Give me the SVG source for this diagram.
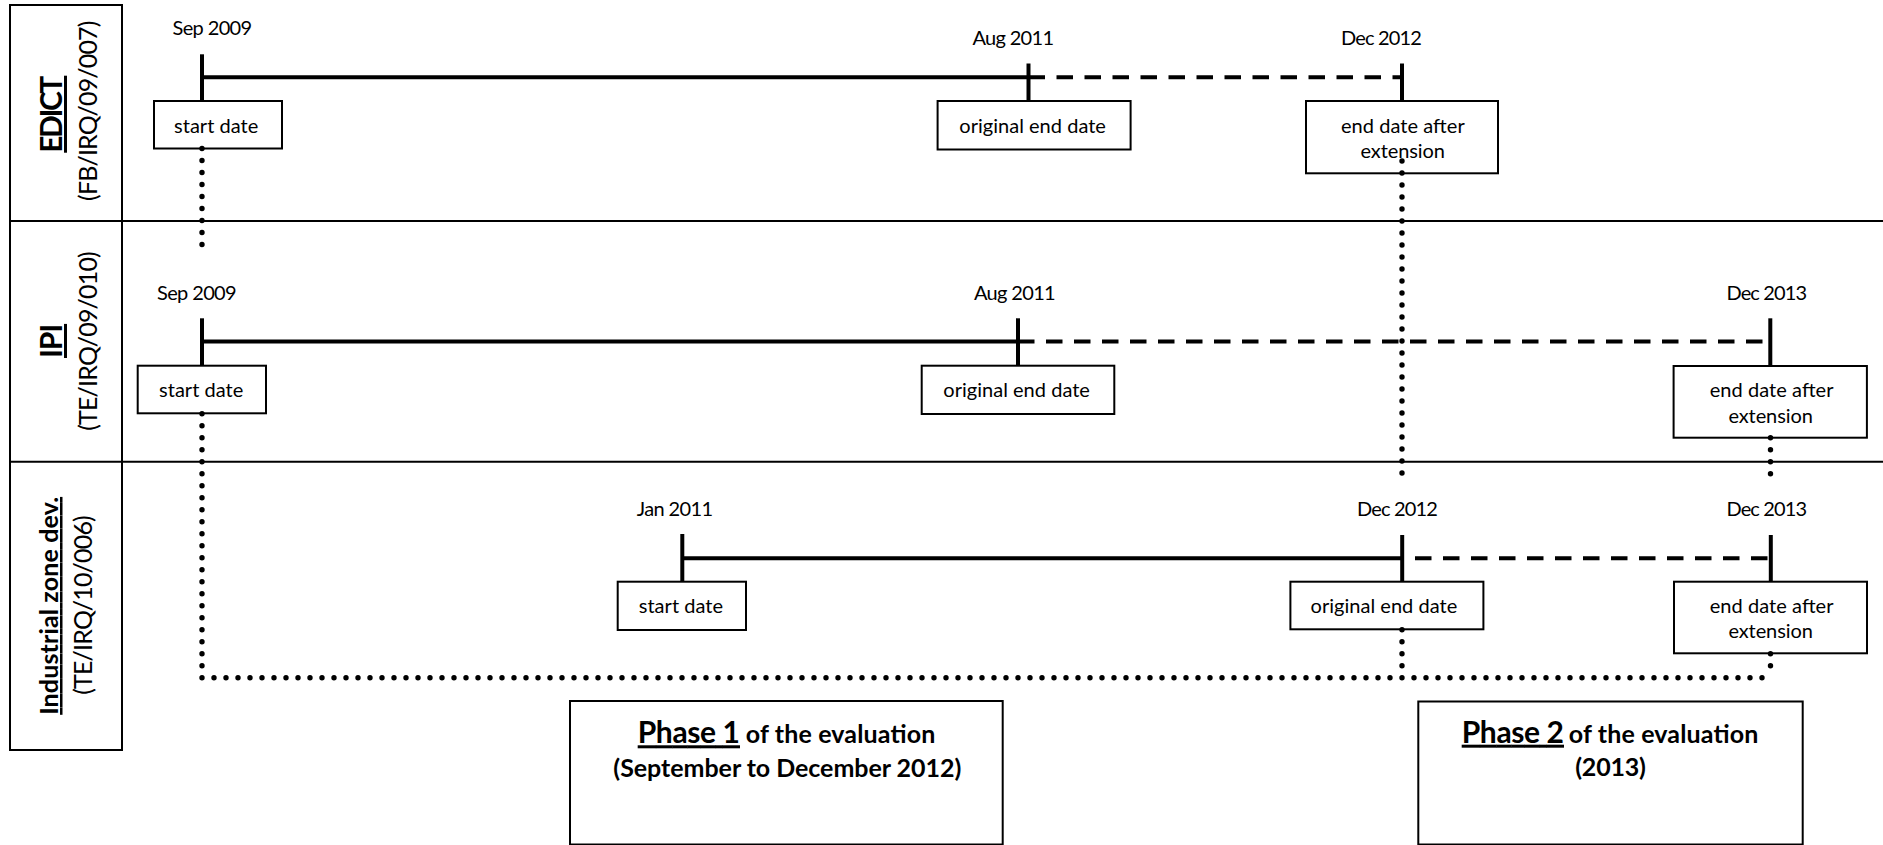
<svg xmlns="http://www.w3.org/2000/svg" width="1883" height="845" viewBox="0 0 1883 845">
<style>
  .t { font-family: Lato, "Open Sans", "Liberation Sans", sans-serif; font-size: 20px; fill: #000; }
  .rp { font-family: Lato, "Open Sans", "Liberation Sans", sans-serif; font-size: 25px; fill: #000; }
  .b30 { font-family: Lato, "Open Sans", "Liberation Sans", sans-serif; font-size: 30px; font-weight: bold; fill: #000; text-decoration: underline; }
  .b25 { font-family: Lato, "Open Sans", "Liberation Sans", sans-serif; font-size: 25px; font-weight: bold; fill: #000; }
  .u { text-decoration: underline; }
  .bx { fill: #fff; stroke: #000; stroke-width: 2; }
  .frame { fill: none; stroke: #000; stroke-width: 2; }
  .grid { stroke: #000; stroke-width: 2; fill: none; }
  .tick { stroke: #000; stroke-width: 4; fill: none; }
  .solid { stroke: #000; stroke-width: 4; fill: none; }
  .dash { stroke: #000; stroke-width: 4; fill: none; stroke-dasharray: 16.5 11.5; }
  .dot { stroke: #000; stroke-width: 5.4; fill: none; stroke-linecap: round; stroke-dasharray: 0 12; }
</style>

<g id="lanes">
  <rect class="frame" x="10" y="5" width="112" height="745"/>
  <line class="grid" x1="10" y1="221" x2="1883" y2="221"/>
  <line class="grid" x1="10" y1="461.7" x2="1883" y2="461.7"/>
</g>

<g id="lane-edict">
  <text class="b30" transform="translate(62,114.2) rotate(-90)" x="-38.5" y="0" textLength="77">EDICT</text>
  <text class="rp" transform="translate(96.5,110.8) rotate(-90)" x="-90.1" y="0" textLength="180.3">(FB/IRQ/09/007)</text>
</g>
<g id="lane-ipi">
  <text class="b30" transform="translate(62,341) rotate(-90)" x="-17" y="0" textLength="34.1">IPI</text>
  <text class="rp" transform="translate(96.5,341) rotate(-90)" x="-89.8" y="0" textLength="179.6">(TE/IRQ/09/010)</text>
</g>
<g id="lane-industrial">
  <text class="b25 u" transform="translate(58,605.8) rotate(-90)" x="-109" y="0" textLength="217.9">Industrial zone dev.</text>
  <text class="rp" transform="translate(91.5,605) rotate(-90)" x="-89.8" y="0" textLength="179.6">(TE/IRQ/10/006)</text>
</g>

<!-- EDICT row -->
<g id="edict-start">
  <rect class="bx" x="154" y="101" width="128" height="47.5"/>
  <text class="t" x="174" y="132.7" textLength="84.3">start date</text>
</g>
<g id="edict-orig-end">
  <rect class="bx" x="937.6" y="101" width="193" height="48.5"/>
  <text class="t" x="959.3" y="132.7" textLength="146.6">original end date</text>
</g>
<g id="edict-ext-end">
  <rect class="bx" x="1306" y="101" width="192" height="72.3"/>
  <text class="t" x="1340.9" y="132.7" textLength="123.8">end date after</text>
  <text class="t" x="1360.5" y="158" textLength="84.5">extension</text>
</g>
<g id="edict-dates">
  <text class="t" x="172.5" y="34.5" textLength="79.7">Sep 2009</text>
  <text class="t" x="972.4" y="44.5" textLength="81.7">Aug 2011</text>
  <text class="t" x="1341" y="44.5" textLength="80.8">Dec 2012</text>
</g>

<!-- IPI row -->
<g id="ipi-start">
  <rect class="bx" x="137.7" y="365.7" width="128.3" height="47.6"/>
  <text class="t" x="159" y="396.7" textLength="84.3">start date</text>
</g>
<g id="ipi-orig-end">
  <rect class="bx" x="921.7" y="365.7" width="192.6" height="48.3"/>
  <text class="t" x="943.3" y="396.7" textLength="146.6">original end date</text>
</g>
<g id="ipi-ext-end">
  <rect class="bx" x="1673.6" y="366" width="193.3" height="71.7"/>
  <text class="t" x="1709.7" y="397" textLength="123.8">end date after</text>
  <text class="t" x="1728.4" y="422.5" textLength="84.5">extension</text>
</g>
<g id="ipi-dates">
  <text class="t" x="157" y="300" textLength="79.7">Sep 2009</text>
  <text class="t" x="974" y="300" textLength="81.7">Aug 2011</text>
  <text class="t" x="1726.4" y="300" textLength="80.8">Dec 2013</text>
</g>

<!-- Industrial zone row -->
<g id="iz-start">
  <rect class="bx" x="617.7" y="581.7" width="128.3" height="48.3"/>
  <text class="t" x="638.7" y="613.3" textLength="84.3">start date</text>
</g>
<g id="iz-orig-end">
  <rect class="bx" x="1290.4" y="581.7" width="193" height="47.6"/>
  <text class="t" x="1310.6" y="612.7" textLength="146.6">original end date</text>
</g>
<g id="iz-ext-end">
  <rect class="bx" x="1674" y="581.7" width="193" height="71.6"/>
  <text class="t" x="1709.7" y="612.7" textLength="123.8">end date after</text>
  <text class="t" x="1728.4" y="638" textLength="84.5">extension</text>
</g>
<g id="iz-dates">
  <text class="t" x="636.7" y="516" textLength="76.3">Jan 2011</text>
  <text class="t" x="1357" y="516" textLength="80.8">Dec 2012</text>
  <text class="t" x="1726.4" y="516" textLength="80.8">Dec 2013</text>
</g>

<!-- Phase boxes -->
<g id="phase1">
  <rect class="bx" x="570" y="701" width="432.7" height="143.5"/>
  <text class="b30" x="637.7" y="743.3" textLength="102.3">Phase 1</text>
  <text class="b25" x="745.7" y="743.3" textLength="189.6">of the evaluation</text>
  <text class="b25" x="613.3" y="776.7" textLength="348">(September to December 2012)</text>
</g>
<g id="phase2">
  <rect class="bx" x="1418.3" y="701.5" width="384.4" height="143"/>
  <text class="b30" x="1461.7" y="742.7" textLength="102.3">Phase 2</text>
  <text class="b25" x="1568.7" y="742.7" textLength="189.6">of the evaluation</text>
  <text class="b25" x="1575.2" y="776.3" textLength="70.7">(2013)</text>
</g>

<g id="connectors">
  <!-- EDICT timeline -->
  <line class="solid" x1="202" y1="77.3" x2="1028.5" y2="77.3"/>
  <line class="dash" x1="1028.5" y1="77.3" x2="1402" y2="77.3"/>
  <line class="tick" x1="202" y1="54.3" x2="202" y2="101"/>
  <line class="tick" x1="1028.5" y1="63.5" x2="1028.5" y2="101"/>
  <line class="tick" x1="1402" y1="63.5" x2="1402" y2="101"/>
  <!-- IPI timeline -->
  <line class="solid" x1="202" y1="341.5" x2="1018" y2="341.5"/>
  <line class="dash" x1="1018" y1="341.5" x2="1770.3" y2="341.5"/>
  <line class="tick" x1="202" y1="318.3" x2="202" y2="365.7"/>
  <line class="tick" x1="1018" y1="318.3" x2="1018" y2="365.7"/>
  <line class="tick" x1="1770.3" y1="318.3" x2="1770.3" y2="366"/>
  <!-- Industrial timeline -->
  <line class="solid" x1="682.3" y1="558.3" x2="1387" y2="558.3"/>
  <line class="dash" x1="1387" y1="558.3" x2="1770.8" y2="558.3"/>
  <line class="tick" x1="682.3" y1="534" x2="682.3" y2="581.7"/>
  <line class="tick" x1="1402.2" y1="535" x2="1402.2" y2="581.7"/>
  <line class="tick" x1="1770.8" y1="535" x2="1770.8" y2="581.7"/>
  <!-- dotted guides -->
  <path class="dot" d="M202,148.5 V256.5"/>
  <path class="dot" d="M202,413.7 V677.7 H1770"/>
  <path class="dot" d="M1402,161 V485"/>
  <path class="dot" d="M1402,629.7 V677.7"/>
  <path class="dot" d="M1770.5,437.7 V485.7"/>
  <path class="dot" d="M1770.5,653.7 V677.7"/>
</g>
</svg>
